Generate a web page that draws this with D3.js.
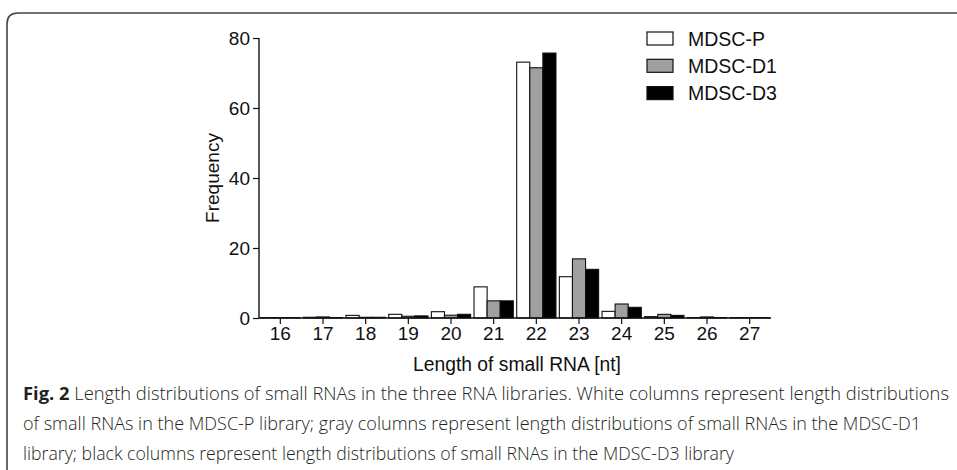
<!DOCTYPE html>
<html><head><meta charset="utf-8">
<script src="https://cdn.jsdelivr.net/npm/d3@7"></script>
<style>body{margin:0;background:#fff}svg{display:block}</style>
</head><body>
<svg id="c" width="957" height="470"></svg>
<script>
const lengths = ["16","17","18","19","20","21","22","23","24","25","26","27"];
const seriesNames = ["MDSC-P","MDSC-D1","MDSC-D3"];
const mdscP  = [0.1,0.2,0.75,1.05,1.8,8.9,73.1,11.8,1.9,0.4,0.1,0.1];
const mdscD1 = [0.1,0.3,0.2,0.5,0.8,4.9,71.5,16.9,4.0,1.05,0.3,0.1];
const mdscD3 = [0.1,0.1,0.2,0.6,1.05,4.9,75.7,13.9,3.05,0.75,0.1,0.1];
const yTicks = [0,20,40,60,80];
const fills = ["#ffffff","#a0a0a0","#000000"];
const captionLines = [
  ["Fig. 2", " Length distributions of small RNAs in the three RNA libraries. White columns represent length distributions"],
  ["", "of small RNAs in the MDSC-P library; gray columns represent length distributions of small RNAs in the MDSC-D1"],
  ["", "library; black columns represent length distributions of small RNAs in the MDSC-D3 library"]
];
const series = [mdscP, mdscD1, mdscD3];

const svg = d3.select("#c");
const font = "'Liberation Sans', Arial, sans-serif";

// frame
svg.append("path")
  .attr("d", "M7,470 L7,24 Q7,13 18,13 L957,13")
  .attr("fill","none").attr("stroke","#444").attr("stroke-width",1.6);

const x = d3.scaleBand().domain(lengths).range([259, 771]).paddingInner(0).paddingOuter(0);
const xs = d3.scaleBand().domain(d3.range(3)).range([0, x.bandwidth()]).paddingInner(0).paddingOuter(0.13);
const y = d3.scaleLinear().domain([0,80]).range([318, 38]);

const g = svg.append("g");
lengths.forEach((L,i)=>{
  series.forEach((s,k)=>{
    const v = s[i];
    g.append("rect")
      .attr("x", x(L)+xs(k)).attr("width", xs.bandwidth())
      .attr("y", y(v)).attr("height", y(0)-y(v))
      .attr("fill", fills[k]).attr("stroke","#111").attr("stroke-width",1.1);
  });
});

const yAxis = svg.append("g").attr("transform","translate(259,0)")
  .call(d3.axisLeft(y).tickValues(yTicks).tickSize(6).tickPadding(3));
const xAxis = svg.append("g").attr("transform","translate(0,318)")
  .call(d3.axisBottom(x).tickSize(6).tickPadding(3));
[yAxis,xAxis].forEach(a=>{
  a.select(".domain").attr("stroke","#111").attr("stroke-width",1.4);
  a.selectAll(".tick line").attr("stroke","#111").attr("stroke-width",1.2);
  a.selectAll("text").attr("font-family",font).attr("font-size",19).attr("fill","#111");
});
yAxis.select(".domain").attr("d","M0,38V318");
xAxis.select(".domain").attr("d","M259,0H771");

svg.append("text").attr("x",517).attr("y",371).attr("text-anchor","middle")
  .attr("font-family",font).attr("font-size",19.3).attr("fill","#111")
  .text("Length of small RNA [nt]");
svg.append("text").attr("transform","translate(219,178) rotate(-90)").attr("text-anchor","middle")
  .attr("font-family",font).attr("font-size",19).attr("fill","#111")
  .text("Frequency");

// legend
const leg = svg.append("g");
seriesNames.forEach((n,k)=>{
  const yy = 32 + k*27.3;
  leg.append("rect").attr("x",647).attr("y",yy).attr("width",26).attr("height",13)
    .attr("fill",fills[k]).attr("stroke","#111").attr("stroke-width",1.2);
  leg.append("text").attr("x",688).attr("y",yy+13.5).attr("font-family",font).attr("font-size",19.5)
    .attr("fill","#111").text(n);
});

// caption
const capW = [926, 898, 711];
captionLines.forEach((ln,i)=>{
  const t = svg.append("text").attr("x",23).attr("y",400+i*30)
    .attr("font-family","'Open Sans', sans-serif").attr("font-size",17.5).attr("fill","#231f20")
    .attr("textLength",capW[i]).attr("lengthAdjust","spacingAndGlyphs");
  if (ln[0]) t.append("tspan").attr("font-weight","bold").text(ln[0]);
  t.append("tspan").attr("font-weight",300).text(ln[1]);
});
</script>
</body></html>
